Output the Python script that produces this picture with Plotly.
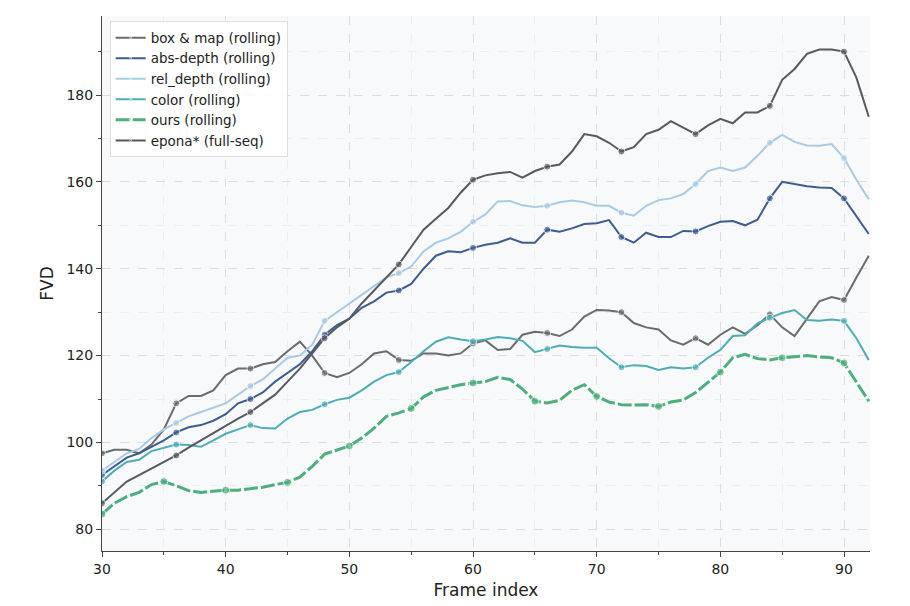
import plotly.graph_objects as go

frames = list(range(30, 93))

upper_gray = [86, 88.5, 91, 92.5, 94, 95.5, 97, 98.8, 100.5, 102.3, 104, 105.5, 107, 109, 111, 114, 117, 120.5, 124,
              126.5, 128.5, 132, 135, 138, 141, 145, 149, 151.5, 154, 157.5, 160.5, 161.5, 162, 162.3, 161, 162.5,
              163.5, 164, 167, 171, 170.5, 169, 167, 168, 171, 172, 174, 172.5, 171, 173, 174.5, 173.5, 176, 176,
              177.5, 183.5, 186, 189.5, 190.5, 190.5, 190, 184, 175]
lower_gray = [97.5, 98.3, 98.3, 97.5, 99.5, 103, 109, 110.7, 110.7, 112, 115.5, 117, 117, 118, 118.5, 121, 123.2,
              120, 116, 115, 116, 118, 120.5, 121, 119, 118.8, 120.5, 120.5, 120, 120.5, 122.8, 123.5, 121.3, 121.5,
              124.8, 125.5, 125.2, 124.5, 126, 129, 130.5, 130.4, 130, 127.5, 126.5, 126, 123.5, 122.5, 124, 122.5,
              124.8, 126.5, 125, 127, 129.5, 126.5, 124.5, 128.5, 132.5, 133.5, 132.8, 138, 143]
abs_depth = [92.5, 94.5, 96.5, 97.5, 99, 100.5, 102.3, 103.5, 104, 105, 106.5, 109, 110, 111.5, 114, 116, 118, 121,
             124.8, 127, 128.5, 131, 132.5, 134.5, 135, 136.5, 140, 143, 144, 143.8, 144.8, 145.5, 146, 147, 146,
             146, 149, 148.5, 149.3, 150.3, 150.5, 151.2, 147.3, 146, 148.3, 147.3, 147.3, 148.7, 148.6, 149.8,
             150.8, 151, 150, 151.3, 156.2, 160, 159.5, 159, 158.7, 158.6, 156.2, 152, 148]
rel_depth = [93.5, 95.5, 97.5, 98.5, 101, 103, 104.5, 106, 107, 108, 109, 111, 113, 114.5, 117, 119.5, 120, 122.5,
             128, 130, 132, 134, 136, 138, 139, 140.5, 144, 146, 147, 148.5, 150.8, 152.5, 155.5, 155.6, 154.6,
             154.2, 154.5, 155.3, 155.7, 155.3, 154.5, 154.5, 152.9, 152.2, 154.5, 155.8, 156.2, 157.2, 159.5,
             162.5, 163.3, 162.5, 163.3, 166, 169, 170.8, 169.2, 168.4, 168.3, 168.7, 165.5, 160.5, 156]
color = [91, 93.5, 95.5, 96, 98, 98.8, 99.5, 99.4, 99, 100.5, 102, 103, 104, 103.3, 103.2, 105.5, 107, 107.5, 108.8,
         109.8, 110.3, 112, 114, 115.5, 116.2, 118.5, 121, 123.2, 124.2, 123.7, 123.3, 123.7, 124.3, 124, 123.4,
         120.8, 121.5, 122.3, 122, 121.8, 121.8, 119.4, 117.3, 117.8, 117.6, 116.7, 117.3, 117, 117.3, 119.5, 121.3,
         124.5, 124.7, 127.4, 128.7, 129.8, 130.5, 128.2, 128, 128.3, 128, 124, 119]
ours = [83.5, 86, 87.5, 88.5, 90.3, 91, 90, 88.9, 88.5, 88.8, 89, 89, 89.3, 89.7, 90.3, 90.8, 92, 94.5, 97.3, 98.2,
        99.2, 101, 103.3, 106, 106.8, 107.8, 110.5, 112, 112.7, 113.3, 113.7, 114, 115, 114.5, 112.3, 109.5, 109.1,
        109.7, 112, 113.3, 110.6, 109.3, 108.7, 108.6, 108.7, 108.3, 109.3, 109.8, 111.5, 113.8, 116.2, 119.5, 120.3,
        119.3, 119, 119.5, 119.8, 120, 119.7, 119.5, 118.3, 114, 109.5]

series = [
    ("box & map (rolling)", lower_gray, "#6b6b6e", "solid", 6),
    ("abs-depth (rolling)", abs_depth, "#3d5d8f", "solid", 6),
    ("rel_depth (rolling)", rel_depth, "#a8cbe4", "solid", 6),
    ("color (rolling)", color, "#4cadb8", "solid", 6),
    ("ours (rolling)", ours, "#4caf7d", "14px,3px", 5),
    ("epona* (full-seq)", upper_gray, "#56595e", "solid", 6),
]

fig = go.Figure()
for name, ys, col, dash, step in series:
    dashed = dash != "solid"
    fig.add_trace(go.Scatter(
        x=frames, y=ys, name=name, mode="lines+markers",
        line=dict(color=col, width=3 if dashed else 2, dash=dash),
        marker=dict(size=[(8 if dashed else 7) if (f - 30) % step == 0 else 0 for f in frames],
                    color=col, line=dict(color="white", width=1)),
    ))

fig.update_layout(
    width=910, height=606,
    paper_bgcolor="white", plot_bgcolor="#f8f9fb",
    margin=dict(l=94, r=48, t=8, b=63, autoexpand=False),
    font=dict(family="DejaVu Sans", size=14, color="#222"),
    legend=dict(x=0.01, y=0.99, xanchor="left", yanchor="top", bgcolor="rgba(255,255,255,0.9)",
                bordercolor="#ddd", borderwidth=1, font=dict(size=13.5)),
    xaxis=dict(title=dict(text="Frame index", standoff=8), range=[30, 92.1], dtick=10, automargin=False,
               showgrid=True, gridcolor="#dcdde2", griddash="dash",
               minor=dict(dtick=5, showgrid=True, gridcolor="#eceef1", ticks="outside", ticklen=3),
               showline=True, linecolor="#444", ticks="outside", zeroline=False),
    yaxis=dict(title=dict(text="FVD", standoff=8), range=[75, 198.2], dtick=20, tick0=0, automargin=False,
               showgrid=True, gridcolor="#dcdde2", griddash="dash",
               minor=dict(dtick=10, showgrid=True, gridcolor="#eceef1", ticks="outside", ticklen=3),
               showline=True, linecolor="#444", ticks="outside", zeroline=False),
)
fig.write_html("out.html")
